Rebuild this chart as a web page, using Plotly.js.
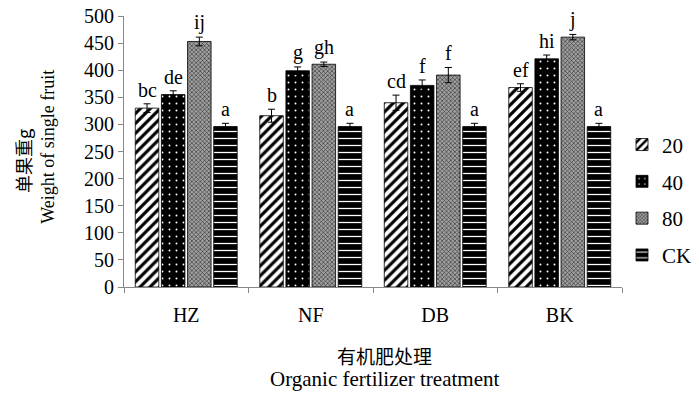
<!DOCTYPE html>
<html>
<head>
<meta charset="utf-8">
<script src="https://cdn.plot.ly/plotly-3.0.1.min.js"></script>
<style>html,body{margin:0;padding:0;background:#fff;}#chart{width:699px;height:393px;}</style>
</head>
<body>
<div id="chart"></div>
<script>
// ---- data ----
const categories = ['HZ', 'NF', 'DB', 'BK'];
const seriesNames = ['20', '40', '80', 'CK'];
const values20 = [330, 316, 340, 368];
const values40 = [355, 399, 372, 421];
const values80 = [453, 411, 391, 461];
const valuesCK = [296, 296, 296, 296];
const err20 = [8, 12, 14, 7];
const err40 = [7, 7, 10, 7];
const err80 = [8, 4, 14, 5];
const errCK = [6, 6, 6, 6];
const letters20 = ['bc', 'b', 'cd', 'ef'];
const letters40 = ['de', 'g', 'f', 'hi'];
const letters80 = ['ij', 'gh', 'f', 'j'];
const lettersCK = ['a', 'a', 'a', 'a'];
const yTicks = [0, 50, 100, 150, 200, 250, 300, 350, 400, 450, 500];
const xTitleCN = '有机肥处理';
const xTitleEN = 'Organic fertilizer treatment';
const yTitleCN = '单果重g';
const yTitleEN = 'Weight of single fruit';

// ---- styling ----
const serif = 'Liberation Serif, Times New Roman, serif';
const cjk = 'Noto Sans CJK SC, sans-serif';
const bargap = 0.16, bargroupgap = 0.1;
const patterns = [
  {shape: '/', fgcolor: '#000', bgcolor: '#fff', size: 7, solidity: 0.45, fillmode: 'replace'},
  {shape: '.', fgcolor: '#fff', bgcolor: '#000', size: 7, solidity: 0.06, fillmode: 'replace'},
  {shape: 'x', fgcolor: '#2a2a2a', bgcolor: '#a0a0a0', size: 3, solidity: 0.35, fillmode: 'replace'},
  {shape: '-', fgcolor: '#fff', bgcolor: '#000', size: 7, solidity: 0.18, fillmode: 'replace'}
];
const allValues = [values20, values40, values80, valuesCK];
const allErr = [err20, err40, err80, errCK];
const allLetters = [letters20, letters40, letters80, lettersCK];

const traces = seriesNames.map((name, j) => ({
  type: 'bar',
  name: name,
  x: categories,
  y: allValues[j],
  legendgroup: 'g' + j,
  marker: {color: patterns[j].bgcolor, line: {color: '#000', width: 0.8}, pattern: patterns[j]},
  error_y: {type: 'data', array: allErr[j], visible: true, color: '#000', thickness: 1, width: 3.5},
  hoverinfo: 'skip'
}));

const slot = (1 - bargap) / seriesNames.length;
const annotations = [];
seriesNames.forEach((name, j) => {
  categories.forEach((c, i) => {
    annotations.push({
      x: i + (j - (seriesNames.length - 1) / 2) * slot,
      y: allValues[j][i] + allErr[j][i],
      xref: 'x', yref: 'y',
      text: allLetters[j][i],
      showarrow: false,
      yanchor: 'bottom',
      yshift: 1,
      font: {family: serif, size: 20, color: '#000'}
    });
  });
});
// axis titles
annotations.push({xref: 'paper', yref: 'paper', x: 0.524, y: -0.251, yanchor: 'middle',
  text: xTitleCN, showarrow: false, font: {family: cjk, size: 19, color: '#000'}});
annotations.push({xref: 'paper', yref: 'paper', x: 0.524, y: -0.339, yanchor: 'middle',
  text: xTitleEN, showarrow: false, font: {family: serif, size: 21, color: '#000'}});
annotations.push({xref: 'paper', yref: 'paper', x: -0.203, y: 0.465, xanchor: 'center', yanchor: 'middle',
  textangle: -90, text: yTitleCN, showarrow: false, font: {family: cjk, size: 18, color: '#000'}});
annotations.push({xref: 'paper', yref: 'paper', x: -0.153, y: 0.517, xanchor: 'center', yanchor: 'middle',
  textangle: -90, text: yTitleEN, showarrow: false, font: {family: serif, size: 18, color: '#000'}});

const layout = {
  width: 699, height: 393,
  margin: {l: 124, r: 77, t: 16, b: 106, autoexpand: false},
  paper_bgcolor: '#fff', plot_bgcolor: '#fff',
  barmode: 'group', bargap: bargap, bargroupgap: bargroupgap,
  font: {family: serif, size: 19, color: '#000'},
  xaxis: {
    type: 'category', showline: true, linecolor: '#888', linewidth: 1,
    ticks: 'outside', tickson: 'boundaries', ticklen: 5, tickcolor: '#888',
    ticklabelstandoff: 10,
    tickfont: {family: serif, size: 20, color: '#000'},
    showgrid: false, zeroline: false
  },
  yaxis: {
    range: [0, 500], tickvals: yTicks, showline: true, linecolor: '#888', linewidth: 1,
    ticks: 'outside', ticklen: 5, tickcolor: '#888',
    tickfont: {family: serif, size: 20, color: '#000'},
    showgrid: false, zeroline: false
  },
  legend: {
    x: 1.0, y: 0.60, xanchor: 'left', yanchor: 'top',
    font: {family: serif, size: 21, color: '#000'},
    tracegroupgap: 6.5, traceorder: 'grouped', itemwidth: 30,
    bgcolor: 'rgba(0,0,0,0)'
  },
  annotations: annotations,
  showlegend: true
};

Plotly.newPlot('chart', traces, layout, {displayModeBar: false, staticPlot: true});
</script>
</body>
</html>
